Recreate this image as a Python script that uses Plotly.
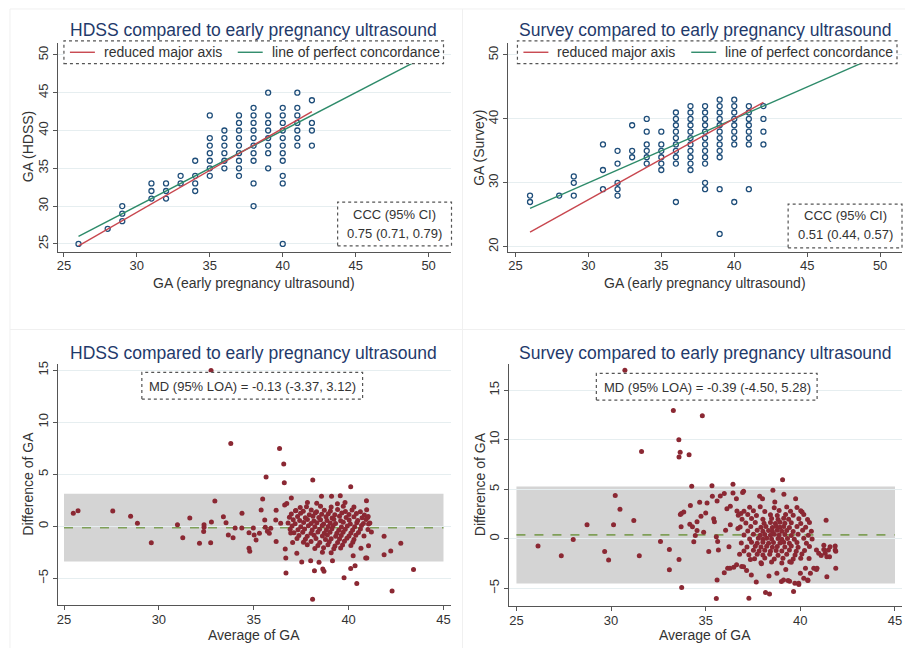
import plotly.graph_objects as go

# ---------------- data ----------------
ticks_top_x = [25, 30, 35, 40, 45, 50]
ticks_hdss_y = [25, 30, 35, 40, 45, 50]
ticks_survey_y = [20, 30, 40, 50]
ticks_ba_x = [25, 30, 35, 40, 45]
ticks_ba_y = [-5, 0, 5, 10, 15]

# HDSS vs ultrasound: ultrasound GA -> list of HDSS GA values observed
hdss_points = {
    26: [25], 28: [27], 29: [28, 29, 30], 31: [31, 32, 33], 32: [31, 32, 33],
    33: [33, 34], 34: [32, 33, 34, 36], 35: [34, 35, 36, 37, 38, 39, 42],
    36: [35, 36, 37, 38, 39, 40], 37: [34, 35, 36, 37, 38, 39, 40, 41, 42],
    38: [30, 33, 36, 37, 38, 39, 40, 41, 42, 43],
    39: [35, 37, 38, 39, 40, 41, 42, 45],
    40: [25, 33, 34, 36, 37, 38, 39, 40, 41, 42, 43],
    41: [38, 39, 40, 41, 42, 43, 45], 42: [38, 40, 41, 44],
}
survey_points = {
    26: [27, 28], 28: [28], 29: [28, 30, 31], 31: [29, 32, 36], 32: [28, 29, 30, 33, 35],
    33: [34, 35, 39], 34: [33, 34, 35, 36, 38, 40], 35: [32, 33, 34, 35, 36, 38],
    36: [27, 33, 34, 35, 36, 37, 38, 39, 40, 41],
    37: [32, 33, 34, 35, 36, 37, 38, 39, 40, 41, 42],
    38: [29, 30, 33, 34, 35, 36, 37, 38, 39, 40, 41, 42],
    39: [22, 29, 34, 35, 36, 37, 38, 39, 40, 41, 42, 43],
    40: [27, 36, 37, 38, 39, 40, 41, 42, 43],
    41: [29, 36, 37, 38, 39, 40, 41, 42], 42: [36, 38, 40, 42],
}
hdss_rma_x = [26, 42]
hdss_rma_y = [24.75, 42.5]
survey_rma_x = [26, 42]
survey_rma_y = [22.3, 42.6]
concord_x = [26, 49]
concord_y = [26, 49]

hdss_md, hdss_loa = -0.13, (-3.37, 3.12)
survey_md_line, survey_loa = 0.39, (-4.50, 5.28)

hdss_ba = [
    (25.49, 1.25), (25.74, 1.50), (27.57, 1.47), (28.51, 0.96), (28.87, 0.29), (29.60, -1.57),
    (30.98, 0.16), (31.26, -1.09), (31.63, 0.80), (32.14, -1.63), (32.38, 0.16), (32.38, -0.10),
    (32.36, -0.50), (32.73, -1.57), (32.77, 0.42), (32.75, 14.98), (32.95, 2.43), (33.40, 0.93),
    (33.54, 0.35), (33.66, -0.83), (33.79, 7.97), (33.91, -1.09), (34.02, -0.16), (34.38, 1.25),
    (34.37, -0.16), (34.75, -0.61), (34.75, -2.11), (34.79, -2.40), (34.98, -0.16), (35.02, -0.83),
    (35.12, -1.31), (35.30, -0.67), (35.39, 1.57), (35.47, 2.62), (35.58, 0.61), (35.61, -0.10),
    (35.65, 4.74), (35.72, -0.48), (35.82, -0.67), (35.90, -0.19), (36.18, 1.54), (36.16, 0.61),
    (36.18, -1.47), (36.36, 7.49), (36.42, 0.29), (36.58, 5.98), (36.61, 4.19), (36.63, 2.05),
    (36.66, -2.18), (36.69, -3.04), (36.70, -4.48), (36.74, 2.20), (36.98, 2.72), (37.20, 1.50),
    (37.27, -2.59), (37.53, -3.42), (37.83, 2.30), (38.00, -3.30), (38.11, 4.45), (38.10, -7.00),
    (38.20, -4.26), (38.44, -3.46), (38.57, 2.88), (38.64, -4.10), (38.70, -4.32), (39.10, 2.88),
    (39.15, -3.30), (39.56, 2.94), (39.76, -4.93), (39.81, 2.30), (40.11, 3.81), (40.11, -4.06),
    (40.24, -2.82), (40.34, -3.78), (40.43, -5.50), (40.94, 2.46), (40.90, -3.04), (41.20, -0.54),
    (41.87, -0.96), (41.87, -2.72), (42.22, -2.37), (42.29, -6.21), (42.75, -1.63), (43.42, -4.16),
    (41.05, 0.22), (41.00, 0.86), (41.05, -1.86), (40.96, -3.04),
    (37.22, 1.52), (37.61, 1.44), (38.03, 1.58), (38.31, 1.41), (38.72, 1.55), (39.04, 1.47),
    (39.42, 1.61), (39.83, 1.43), (40.18, 1.56), (40.62, 1.39),
    (36.98, 1.18), (37.47, 1.25), (37.93, 1.12), (38.24, 1.27), (38.58, 1.16), (38.93, 1.22),
    (39.27, 1.11), (39.64, 1.29), (40.02, 1.14), (40.41, 1.24), (40.83, 1.09),
    (36.88, 0.87), (37.31, 0.94), (37.72, 0.83), (38.12, 0.96), (38.43, 0.86), (38.81, 0.92),
    (39.13, 0.81), (39.52, 0.97), (39.87, 0.85), (40.28, 0.93), (40.71, 0.82), (41.03, 0.95),
    (37.08, 0.63), (37.42, 0.55), (37.83, 0.66), (38.17, 0.52), (38.52, 0.64), (38.86, 0.57),
    (39.22, 0.68), (39.58, 0.53), (40.03, 0.62), (40.48, 0.56), (40.92, 0.65),
    (36.81, 0.31), (37.18, 0.24), (37.63, 0.36), (38.02, 0.27), (38.33, 0.34), (38.68, 0.22),
    (39.03, 0.33), (39.31, 0.26), (39.72, 0.38), (40.09, 0.23), (40.43, 0.35), (40.78, 0.28), (41.12, 0.32),
    (37.02, 0.03), (37.48, -0.05), (37.88, 0.06), (38.22, -0.04), (38.61, 0.08), (38.92, -0.02),
    (39.18, 0.05), (39.62, -0.06), (39.93, 0.04), (40.32, -0.03), (40.68, 0.07),
    (36.92, -0.28), (37.33, -0.34), (37.68, -0.25), (38.08, -0.36), (38.47, -0.27), (38.83, -0.33),
    (39.12, -0.24), (39.48, -0.37), (39.82, -0.29), (40.21, -0.35), (40.62, -0.26), (41.02, -0.31),
    (37.12, -0.62), (37.58, -0.57), (38.02, -0.66), (38.38, -0.55), (38.72, -0.64), (39.02, -0.58),
    (39.38, -0.67), (39.71, -0.56), (40.12, -0.63), (40.52, -0.59),
    (37.38, -0.88), (37.82, -0.95), (38.18, -0.86), (38.62, -0.93), (38.88, -0.84), (39.32, -0.96),
    (39.61, -0.87), (40.02, -0.92), (40.38, -0.85), (40.81, -0.94),
    (37.28, -1.18), (37.72, -1.24), (38.28, -1.16), (38.78, -1.27), (39.08, -1.19), (39.52, -1.22),
    (39.91, -1.14), (40.28, -1.26),
    (37.62, -1.52), (38.02, -1.46), (38.48, -1.55), (38.98, -1.48), (39.42, -1.56), (39.78, -1.44), (40.22, -1.53),
    (37.82, -1.78), (38.38, -1.85), (38.91, -1.76), (39.28, -1.88), (39.68, -1.79), (40.12, -1.84),
    (38.22, -2.12), (38.68, -2.06), (39.22, -2.15), (39.58, -2.08), (38.62, -2.48), (39.08, -2.53),
    (37.78, 1.88), (38.52, 1.94), (39.08, 1.86), (39.72, 1.92), (40.28, 1.85), (38.32, 2.21), (39.41, 2.18),
    (37.45, 1.82), (36.95, -0.65), (37.05, -1.55), (40.65, -2.10), (40.95, 1.60),
]

survey_ba = [
    (26.14, -0.74), (27.37, -1.71), (28.00, -0.07), (28.73, 1.41), (29.66, -1.27), (29.87, -2.14),
    (30.13, 1.41), (30.22, 4.36), (30.47, 2.98), (30.73, 17.00), (31.20, 1.84), (31.49, -1.71),
    (31.61, 8.81), (32.61, -0.27), (33.08, -1.07), (33.08, -3.12), (33.29, 12.93), (33.58, 9.98),
    (33.59, 8.24), (33.65, 8.74), (33.59, -2.08), (33.66, 2.45), (33.71, 2.55), (33.73, -4.92),
    (33.70, 1.21), (33.84, 2.71), (34.12, 8.48), (34.16, 1.47), (34.19, 3.35), (34.26, 5.29),
    (34.30, 1.21), (34.37, -0.30), (34.45, 0.34), (34.54, 1.71), (34.54, 0.84), (34.68, 3.69),
    (34.75, 2.28), (34.82, 12.40), (34.89, 0.67), (35.00, 2.61), (35.07, 3.62), (35.16, -1.27),
    (35.33, 5.36), (35.35, 4.29), (35.42, 2.01), (35.46, 1.71), (35.56, -6.03), (35.60, 3.82),
    (35.60, -4.15), (35.56, 0.20), (35.63, -0.27), (35.67, -1.14), (35.77, 4.32), (35.98, -3.42),
    (35.98, 4.56), (36.05, 0.87), (36.12, 3.02), (36.16, -2.98), (36.23, -0.80), (36.30, 1.41),
    (36.30, 3.28), (36.44, 5.49), (36.44, 4.62), (36.48, -2.88), (36.62, 4.05), (36.65, 2.81),
    (36.70, 1.04), (36.79, -1.57), (36.86, 2.55), (37.00, 4.79), (37.00, -2.81), (37.28, -6.00),
    (37.36, -2.08), (37.41, -3.65), (37.67, -4.35), (37.85, 4.29), (38.00, 4.05), (38.16, -5.43),
    (38.34, -3.75), (38.37, -5.56), (38.55, 4.89), (38.65, 3.72), (38.76, -3.48), (39.06, 5.96),
    (39.13, 4.49), (39.11, -4.15), (39.43, -4.29), (39.64, -5.33), (39.71, -4.49), (39.75, 4.05),
    (39.91, -4.49), (40.00, -3.48), (40.09, 2.71), (40.18, -3.98), (40.27, -2.98), (40.39, -4.15),
    (40.46, -1.98), (40.53, -3.48), (40.71, -2.98), (40.85, -1.14), (40.88, -2.98), (40.97, -1.47),
    (41.10, -1.68), (41.24, -1.07), (41.31, -1.47), (41.36, 1.88), (41.40, -3.82), (41.40, -1.81),
    (41.48, -1.14), (41.54, -1.81), (41.84, -0.74), (41.84, -1.14), (41.87, -2.98), (41.57, -0.80),
    (36.95, 4.68), (41.24, -0.65), (41.87, -1.25), (40.85, -3.09), (40.40, -4.20), (39.92, -4.60),
    (39.35, -4.20), (39.00, -4.30), (36.28, -2.96), (36.63, -2.62), (36.90, -2.79), (37.16, -3.19),
    (37.95, -2.52), (39.23, -3.09), (39.44, -2.32),
    (37.32, 3.18), (37.88, 3.24), (38.62, 3.12), (39.28, 3.21), (39.82, 3.15),
    (37.02, 2.78), (37.52, 2.84), (38.12, 2.75), (38.88, 2.86), (39.48, 2.77), (40.02, 2.83),
    (36.72, 2.38), (37.22, 2.45), (37.68, 2.36), (38.42, 2.43), (38.78, 2.35), (39.22, 2.46),
    (39.62, 2.37), (40.18, 2.44),
    (36.92, 1.98), (37.42, 2.05), (38.02, 1.96), (38.48, 2.04), (38.82, 1.95), (39.12, 2.06),
    (39.38, 1.97), (39.92, 2.03), (40.38, 1.94),
    (37.12, 1.58), (37.62, 1.65), (38.08, 1.56), (38.42, 1.64), (38.68, 1.55), (38.92, 1.66),
    (39.18, 1.57), (39.52, 1.63), (40.02, 1.54), (40.48, 1.65),
    (36.82, 1.18), (37.38, 1.25), (37.92, 1.16), (38.18, 1.24), (38.52, 1.15), (38.72, 1.26),
    (38.92, 1.17), (39.12, 1.23), (39.42, 1.14), (39.82, 1.25), (40.28, 1.16),
    (37.22, 0.78), (37.72, 0.85), (38.02, 0.76), (38.32, 0.84), (38.52, 0.75), (38.78, 0.86),
    (39.02, 0.77), (39.28, 0.83), (39.62, 0.74), (40.12, 0.85), (40.58, 0.76),
    (37.02, 0.38), (37.52, 0.45), (37.88, 0.36), (38.12, 0.44), (38.42, 0.35), (38.62, 0.46),
    (38.88, 0.37), (39.18, 0.43), (39.52, 0.34), (39.88, 0.45), (40.42, 0.36),
    (37.32, -0.02), (37.78, 0.05), (38.02, -0.04), (38.22, 0.06), (38.48, -0.03), (38.82, 0.04),
    (39.02, -0.05), (39.32, 0.03), (39.68, -0.04), (40.18, 0.05), (40.62, -0.03),
    (36.88, -0.42), (37.42, -0.35), (37.72, -0.44), (38.02, -0.36), (38.32, -0.45), (38.58, -0.37),
    (38.92, -0.43), (39.12, -0.34), (39.42, -0.46), (39.82, -0.38), (40.32, -0.44),
    (37.18, -0.82), (37.62, -0.75), (37.92, -0.84), (38.22, -0.76), (38.52, -0.85), (38.78, -0.77),
    (39.18, -0.83), (39.52, -0.74), (39.88, -0.86), (40.48, -0.78),
    (37.02, -1.22), (37.52, -1.15), (37.82, -1.24), (38.12, -1.16), (38.42, -1.25), (38.72, -1.17),
    (39.02, -1.23), (39.42, -1.14), (39.78, -1.26), (40.22, -1.18),
    (37.28, -1.62), (37.72, -1.55), (38.02, -1.64), (38.38, -1.56), (38.82, -1.65), (39.28, -1.57),
    (39.72, -1.63), (40.08, -1.54),
    (37.58, -2.02), (38.12, -1.95), (38.62, -2.04), (39.08, -1.96), (39.62, -2.05), (40.02, -1.97),
    (37.92, -2.42), (38.48, -2.35), (39.02, -2.44), (39.52, -2.36),
]

# ---------------- styling ----------------
W, H = 905, 648
FONT = "Arial, Liberation Sans, sans-serif"
TITLE_C = "#1f3a6b"
TXT_C = "#333333"
NAVY = "#1f4e7a"
RED = "#c8474f"
GREEN = "#2e8b6a"
MAROON = "#8b2833"
BAND = "#d4d4d4"
DASH = "#7f9f58"
GRID = "#e6eef0"


def px(x):
    return x / W


def py(y):
    return 1 - y / H


fig = go.Figure()


def flat(d):
    xs, ys = [], []
    for k, vals in d.items():
        for v in vals:
            xs.append(k)
            ys.append(v)
    return xs, ys


hx, hy = flat(hdss_points)
sx, sy = flat(survey_points)

for (xs, ys, rx, ry, xa, ya) in [
    (hx, hy, hdss_rma_x, hdss_rma_y, "x", "y"),
    (sx, sy, survey_rma_x, survey_rma_y, "x2", "y2"),
]:
    fig.add_trace(go.Scatter(x=xs, y=ys, mode="markers", xaxis=xa, yaxis=ya, showlegend=False,
                             marker=dict(symbol="circle-open", size=5, color=NAVY,
                                         line=dict(width=1.3, color=NAVY))))
    fig.add_trace(go.Scatter(x=concord_x, y=concord_y, mode="lines", xaxis=xa, yaxis=ya,
                             showlegend=False, line=dict(color=GREEN, width=1.4)))
    fig.add_trace(go.Scatter(x=rx, y=ry, mode="lines", xaxis=xa, yaxis=ya,
                             showlegend=False, line=dict(color=RED, width=1.4)))

for (pts, md, xa, ya) in [(hdss_ba, hdss_md, "x3", "y3"), (survey_ba, survey_md_line, "x4", "y4")]:
    fig.add_trace(go.Scatter(x=[25, 45], y=[md, md], mode="lines", xaxis=xa, yaxis=ya,
                             showlegend=False, line=dict(color=DASH, width=1.6, dash="dash")))
    fig.add_trace(go.Scatter(x=[p[0] for p in pts], y=[p[1] for p in pts], mode="markers",
                             xaxis=xa, yaxis=ya, showlegend=False,
                             marker=dict(size=5, color=MAROON)))

shapes = []
for (loa, xr, yr) in [(hdss_loa, "x3", "y3"), (survey_loa, "x4", "y4")]:
    shapes.append(dict(type="rect", xref=xr, yref=yr, x0=25, x1=45, y0=loa[0], y1=loa[1],
                       fillcolor=BAND, line=dict(width=0), layer="below"))


def box(x0, y0, x1, y1):
    shapes.append(dict(type="rect", xref="paper", yref="paper", x0=px(x0), x1=px(x1),
                       y0=py(y1), y1=py(y0), fillcolor="white",
                       line=dict(color="#555555", width=1.2, dash="dot"), layer="above"))


def seg(x0, x1, y, color):
    shapes.append(dict(type="line", xref="paper", yref="paper", x0=px(x0), x1=px(x1),
                       y0=py(y), y1=py(y), line=dict(color=color, width=1.4), layer="above"))


# faint panel separators
for xx in [9, 462]:
    shapes.append(dict(type="line", xref="paper", yref="paper", x0=px(xx), x1=px(xx), y0=0, y1=py(6),
                       line=dict(color="#f0f0f0", width=1), layer="below"))
for yy in [6, 328]:
    shapes.append(dict(type="line", xref="paper", yref="paper", x0=px(9), x1=1, y0=py(yy), y1=py(yy),
                       line=dict(color="#f0f0f0", width=1), layer="below"))

annotations = []


def text(x, y, s, size, color=TXT_C, angle=0, xanchor="center"):
    annotations.append(dict(x=px(x), y=py(y), xref="paper", yref="paper", text=s, showarrow=False,
                            font=dict(family=FONT, size=size, color=color), textangle=angle,
                            xanchor=xanchor, yanchor="middle"))


# legends
for off in [0, 454]:
    box(63 + off, 38, 443 + off, 61)
    seg(69 + off, 94 + off, 49.5, RED)
    text(101 + off, 49.5, "reduced major axis", 14, xanchor="left")
    seg(237 + off, 262 + off, 49.5, GREEN)
    text(269 + off, 49.5, "line of perfect concordance", 14, xanchor="left")

# CCC boxes
box(337, 200, 451, 244)
text(394, 212, "CCC (95% CI)", 13)
text(394, 232, "0.75 (0.71, 0.79)", 13)
box(788, 202, 902, 246)
text(845, 213, "CCC (95% CI)", 13)
text(845, 233, "0.51 (0.44, 0.57)", 13)

# MD boxes
box(141, 371, 362, 398)
text(252, 385, "MD (95% LOA) = -0.13 (-3.37, 3.12)", 13)
box(596, 372, 817, 399)
text(707, 386, "MD (95% LOA) = -0.39 (-4.50, 5.28)", 13)

# titles
text(253, 27, "HDSS compared to early pregnancy ultrasound", 17.5, TITLE_C)
text(705, 27, "Survey compared to early pregnancy ultrasound", 17.5, TITLE_C)
text(253, 352, "HDSS compared to early pregnancy ultrasound", 17.5, TITLE_C)
text(705, 352, "Survey compared to early pregnancy ultrasound", 17.5, TITLE_C)

# axis titles
text(253, 281, "GA (early pregnancy ultrasound)", 14)
text(705, 281, "GA (early pregnancy ultrasound)", 14)
text(253, 635, "Average of GA", 14)
text(705, 635, "Average of GA", 14)
text(27, 144, "GA (HDSS)", 14, angle=-90)
text(479, 145, "GA (Survey)", 14, angle=-90)
text(27, 483, "Difference of GA", 14, angle=-90)
text(479, 483, "Difference of GA", 14, angle=-90)


def xax(dom, rng, ticks, anchor):
    return dict(domain=[px(dom[0]), px(dom[1])], range=rng, tickvals=ticks, anchor=anchor,
                showline=True, linecolor="#555555", linewidth=1, ticks="outside", ticklen=4,
                tickcolor="#555555", showgrid=False, zeroline=False, ticklabelstandoff=-2,
                tickfont=dict(family=FONT, size=13, color=TXT_C))


def yax(dom, rng, ticks, anchor):
    return dict(domain=[py(dom[1]), py(dom[0])], range=rng, tickvals=ticks, anchor=anchor,
                showline=True, linecolor="#555555", linewidth=1, ticks="outside", ticklen=4,
                tickcolor="#555555", showgrid=True, gridcolor=GRID, gridwidth=1, zeroline=False,
                tickangle=-90, tickfont=dict(family=FONT, size=13, color=TXT_C))


fig.update_layout(
    width=W, height=H, margin=dict(l=0, r=0, t=0, b=0),
    paper_bgcolor="white", plot_bgcolor="white", showlegend=False,
    font=dict(family=FONT, color=TXT_C),
    xaxis=xax((57, 450), [24.59, 51.5], ticks_top_x, "y"),
    yaxis=yax((40, 250), [23.95, 51.6], ticks_hdss_y, "x"),
    xaxis2=xax((508, 902), [24.52, 51.5], ticks_top_x, "y2"),
    yaxis2=yax((40, 250), [19.2, 51.9], ticks_survey_y, "x2"),
    xaxis3=xax((57, 450), [24.68, 45.37], ticks_ba_x, "y3"),
    yaxis3=yax((363, 605), [-7.58, 15.57], ticks_ba_y, "x3"),
    xaxis4=xax((509, 902), [24.63, 45.37], ticks_ba_x, "y4"),
    yaxis4=yax((363, 606), [-6.8, 17.6], ticks_ba_y, "x4"),
    shapes=shapes, annotations=annotations,
)

fig.write_html(
    "out.html",
    config={"displayModeBar": False},
    post_script="document.body.style.margin='0';document.body.style.padding='0';"
                "document.body.style.overflow='hidden';",
)
